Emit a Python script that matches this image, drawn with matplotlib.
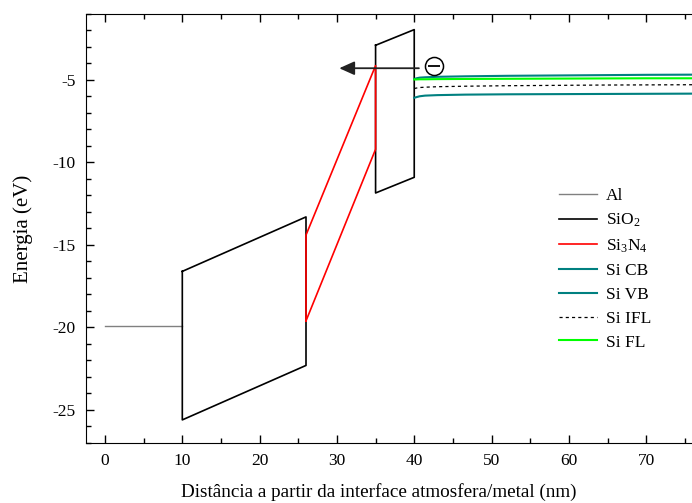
import numpy as np
from matplotlib import pyplot as plt
from matplotlib.ticker import MultipleLocator

plt.rcParams['font.family'] = ['Liberation Serif', 'DejaVu Serif']
plt.rcParams['mathtext.fontset'] = 'custom'
plt.rcParams['mathtext.rm'] = 'Liberation Serif'
plt.rcParams['mathtext.default'] = 'regular'
plt.rcParams['axes.unicode_minus'] = False

# metal
al_x = [0, 10]
al_y = [-19.9, -19.9]

# SiO2 (two oxide layers, closed outlines)
sio2a_x = [10, 26, 26, 10, 10]
sio2a_y = [-16.6, -13.3, -22.3, -25.6, -16.6]
sio2b_x = [35, 40, 40, 35, 35]
sio2b_y = [-2.9, -1.95, -10.9, -11.85, -2.9]

# Si3N4
sin_x = [26, 26, 35, 35, 26]
sin_y = [-19.6, -14.4, -4.13, -9.2, -19.6]

# silicon bands
si_x = [40.0, 40.3, 40.7, 41.4, 43, 46.6, 52, 58, 64, 70, 76]
si_cb = [-4.94, -4.9, -4.86, -4.84, -4.81, -4.78, -4.75, -4.73, -4.71, -4.69, -4.68]
si_vb = [-6.08, -6.04, -5.99, -5.95, -5.92, -5.89, -5.87, -5.86, -5.85, -5.84, -5.83]
si_ifl = [-5.52, -5.49, -5.46, -5.44, -5.41, -5.38, -5.35, -5.33, -5.31, -5.30, -5.29]
si_fl = [-4.97, -4.97, -4.96, -4.96, -4.95, -4.94, -4.93, -4.92, -4.91, -4.9, -4.9]

fig = plt.figure(figsize=(6.92, 5.03), dpi=100)
ax = fig.add_axes([0.1238, 0.1193, 0.877, 0.853])

ax.plot(al_x, al_y, color='grey', lw=1.0, label='Al')
ax.plot(sio2a_x, sio2a_y, color='black', lw=1.2, label='SiO$_2$')
ax.plot(sio2b_x, sio2b_y, color='black', lw=1.2)
ax.plot(sin_x, sin_y, color='red', lw=1.2, label='Si$_3$N$_4$')
ax.plot(si_x, si_cb, color='#008080', lw=1.5, label='Si CB')
ax.plot(si_x, si_vb, color='#008080', lw=1.5, label='Si VB')
ax.plot(si_x, si_ifl, color='black', lw=0.9, ls=(0, (2.5, 2.5)), label='Si IFL')
ax.plot(si_x, si_fl, color='#00ff00', lw=1.5, label='Si FL')

# electron leaving towards the metal
ax.annotate('', xy=(30.3, -4.29), xytext=(40.6, -4.29),
            arrowprops=dict(arrowstyle='-|>,head_length=0.4,head_width=0.18',
                            color='#222222', lw=1.3, mutation_scale=23,
                            shrinkA=0, shrinkB=0))
ax.plot(42.5, -4.17, 'o', ms=13, mfc='white', mec='black', mew=1.1)
ax.plot(42.5, -4.17, '_', ms=8, mec='black', mew=1.3)

ax.set_xlim(-2.5, 76)
ax.set_ylim(-27, -1)
ax.xaxis.set_major_locator(MultipleLocator(10))
ax.xaxis.set_minor_locator(MultipleLocator(5))
ax.yaxis.set_major_locator(MultipleLocator(5))
ax.yaxis.set_minor_locator(MultipleLocator(1))
ax.tick_params(which='both', direction='in', top=True, right=False, labelsize=12.5, pad=7)
ax.tick_params(which='major', length=6, width=1)
ax.tick_params(which='minor', length=3.5, width=1)
ax.spines['right'].set_visible(False)

ax.set_xlabel('Distância a partir da interface atmosfera/metal (nm)', fontsize=13.8, labelpad=10)
ax.xaxis.label.set_x(0.483)
ax.set_ylabel('Energia (eV)', fontsize=15, labelpad=14)

ax.legend(loc='upper left', bbox_to_anchor=(0.808, 0.626), bbox_transform=fig.transFigure,
          frameon=False, fontsize=12.5, borderpad=0, borderaxespad=0,
          handlelength=2.2, handletextpad=0.5, labelspacing=0.45)

plt.savefig('out.png', dpi=100)
